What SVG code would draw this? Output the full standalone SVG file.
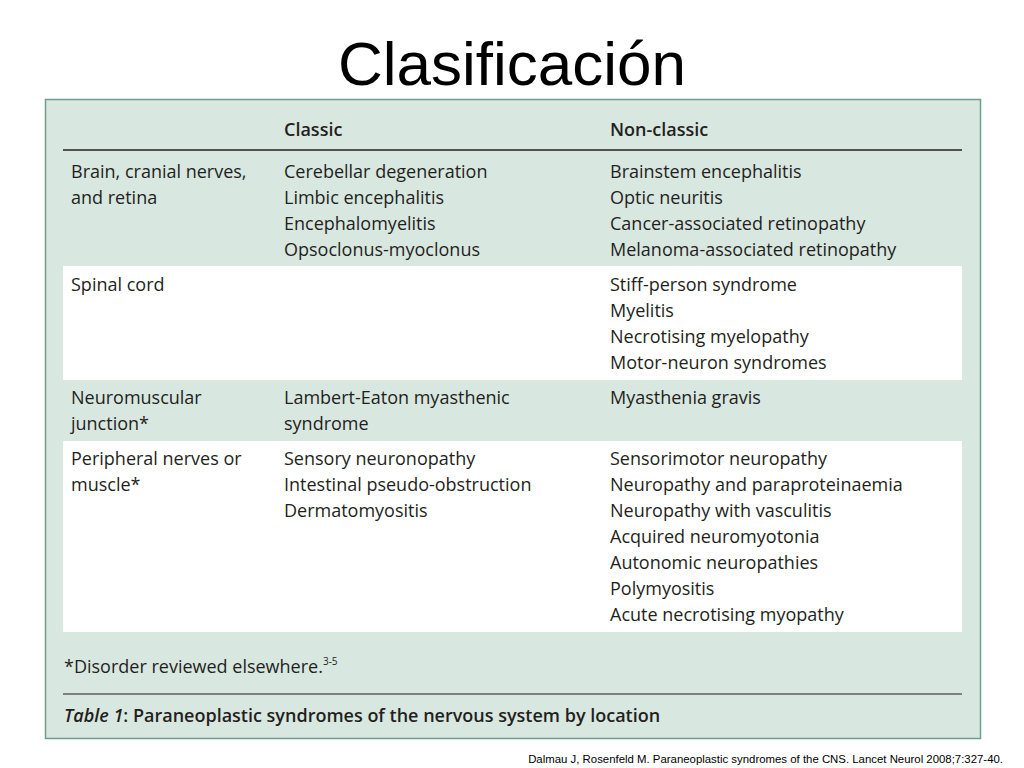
<svg xmlns="http://www.w3.org/2000/svg" width="1024" height="768" viewBox="0 0 1024 768">
<style>
.t{font-family:"Open Sans","Noto Sans",sans-serif;font-size:18px;fill:#231f20}
.h{font-family:"Open Sans","Noto Sans",sans-serif;font-size:18px;font-weight:600;fill:#231f20}
</style>
<rect width="1024" height="768" fill="#fff"/>
<text x="512" y="85" text-anchor="middle" font-family="Liberation Sans, Arial, sans-serif" font-size="62" fill="#000">Clasificación</text>
<rect x="45.5" y="99.5" width="935" height="639" fill="#d9e7e1" stroke="#6f9f8b" stroke-width="1.5"/>
<rect x="63" y="266" width="899" height="114" fill="#fff"/>
<rect x="63" y="441" width="899" height="191" fill="#fff"/>
<line x1="63" y1="150" x2="962" y2="150" stroke="#231f20" stroke-width="1.5"/>
<line x1="63" y1="694" x2="962" y2="694" stroke="#231f20" stroke-width="1.2"/>
<text class="h" x="284" y="136">Classic</text>
<text class="h" x="610" y="136">Non-classic</text>
<g class="t">
<text class="t" x="71" y="178">Brain, cranial nerves,</text>
<text class="t" x="71" y="204">and retina</text>
<text class="t" x="284" y="178">Cerebellar degeneration</text>
<text class="t" x="284" y="204">Limbic encephalitis</text>
<text class="t" x="284" y="230">Encephalomyelitis</text>
<text class="t" x="284" y="256">Opsoclonus-myoclonus</text>
<text class="t" x="610" y="178">Brainstem encephalitis</text>
<text class="t" x="610" y="204">Optic neuritis</text>
<text class="t" x="610" y="230">Cancer-associated retinopathy</text>
<text class="t" x="610" y="256">Melanoma-associated retinopathy</text>
<text class="t" x="71" y="291">Spinal cord</text>
<text class="t" x="610" y="291">Stiff-person syndrome</text>
<text class="t" x="610" y="317">Myelitis</text>
<text class="t" x="610" y="343">Necrotising myelopathy</text>
<text class="t" x="610" y="369">Motor-neuron syndromes</text>
<text class="t" x="71" y="404">Neuromuscular</text>
<text class="t" x="71" y="430">junction*</text>
<text class="t" x="284" y="404">Lambert-Eaton myasthenic</text>
<text class="t" x="284" y="430">syndrome</text>
<text class="t" x="610" y="404">Myasthenia gravis</text>
<text class="t" x="71" y="465">Peripheral nerves or</text>
<text class="t" x="71" y="491">muscle*</text>
<text class="t" x="284" y="465">Sensory neuronopathy</text>
<text class="t" x="284" y="491">Intestinal pseudo-obstruction</text>
<text class="t" x="284" y="517">Dermatomyositis</text>
<text class="t" x="610" y="465">Sensorimotor neuropathy</text>
<text class="t" x="610" y="491">Neuropathy and paraproteinaemia</text>
<text class="t" x="610" y="517">Neuropathy with vasculitis</text>
<text class="t" x="610" y="543">Acquired neuromyotonia</text>
<text class="t" x="610" y="569">Autonomic neuropathies</text>
<text class="t" x="610" y="595">Polymyositis</text>
<text class="t" x="610" y="621">Acute necrotising myopathy</text>
<text class="t" x="64" y="673">*Disorder reviewed elsewhere.<tspan font-size="10" dy="-8">3-5</tspan></text>
</g>
<text class="h" x="64" y="722"><tspan font-style="italic">Table 1</tspan>: Paraneoplastic syndromes of the nervous system by location</text>
<text x="1003" y="763" text-anchor="end" font-family="Liberation Sans, Arial, sans-serif" font-size="11.4" fill="#000">Dalmau J, Rosenfeld M. Paraneoplastic syndromes of the CNS. Lancet Neurol 2008;7:327-40.</text>
</svg>
